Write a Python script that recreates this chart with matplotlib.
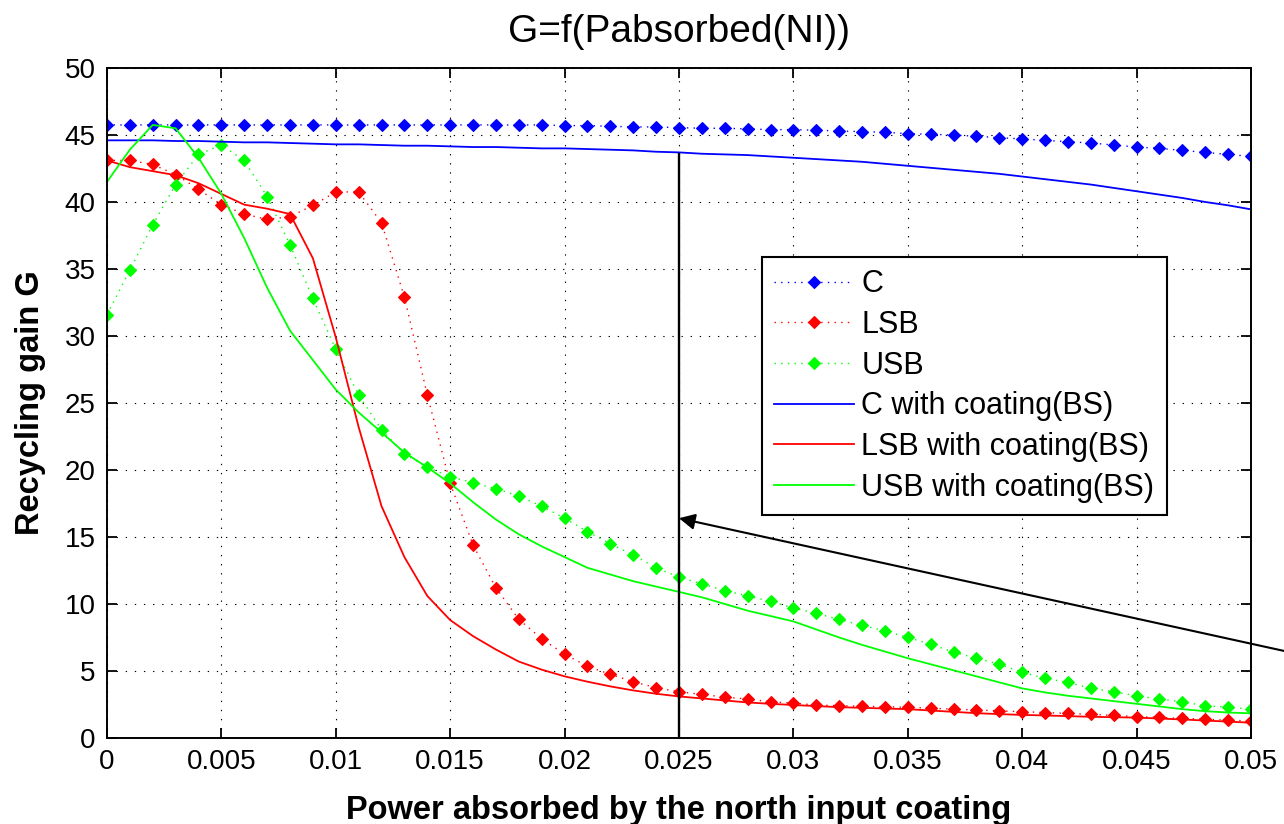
import matplotlib
matplotlib.use('Agg')
import matplotlib.pyplot as plt

plt.rcParams['font.family'] = ['Liberation Sans', 'DejaVu Sans']

# sample points (W)
power = [0.000, 0.001, 0.002, 0.003, 0.004, 0.005, 0.006, 0.007, 0.008, 0.009,
         0.010, 0.011, 0.012, 0.013, 0.014, 0.015, 0.016, 0.017, 0.018, 0.019,
         0.020, 0.021, 0.022, 0.023, 0.024, 0.025, 0.026, 0.027, 0.028, 0.029,
         0.030, 0.031, 0.032, 0.033, 0.034, 0.035, 0.036, 0.037, 0.038, 0.039,
         0.040, 0.041, 0.042, 0.043, 0.044, 0.045, 0.046, 0.047, 0.048, 0.049,
         0.050]

# without coating
g_c = [45.75, 45.75, 45.75, 45.75, 45.75, 45.75, 45.75, 45.75, 45.75, 45.75,
       45.75, 45.75, 45.75, 45.75, 45.75, 45.75, 45.75, 45.75, 45.75, 45.75,
       45.7, 45.7, 45.65, 45.6, 45.6, 45.55, 45.5, 45.5, 45.45, 45.4,
       45.4, 45.35, 45.3, 45.25, 45.2, 45.1, 45.05, 45.0, 44.9, 44.8,
       44.7, 44.6, 44.5, 44.4, 44.25, 44.1, 44.0, 43.85, 43.7, 43.55,
       43.4]
g_lsb = [43.1, 43.1, 42.8, 42.05, 40.95, 39.8, 39.1, 38.7, 38.9, 39.75,
         40.75, 40.75, 38.45, 32.9, 25.6, 19.0, 14.4, 11.2, 8.85, 7.4,
         6.25, 5.35, 4.75, 4.2, 3.75, 3.45, 3.25, 3.05, 2.9, 2.7,
         2.6, 2.46, 2.41, 2.37, 2.33, 2.29, 2.22, 2.15, 2.09, 2.02,
         1.96, 1.9, 1.83, 1.76, 1.68, 1.6, 1.53, 1.46, 1.4, 1.33,
         1.27]
g_usb = [31.6, 34.9, 38.3, 41.3, 43.55, 44.25, 43.1, 40.4, 36.8, 32.8,
         29.0, 25.6, 23.0, 21.2, 20.2, 19.5, 19.05, 18.6, 18.05, 17.3,
         16.4, 15.4, 14.5, 13.65, 12.7, 12.0, 11.5, 11.0, 10.6, 10.2,
         9.7, 9.3, 8.85, 8.4, 8.0, 7.5, 7.0, 6.4, 5.95, 5.5,
         4.9, 4.45, 4.15, 3.7, 3.45, 3.15, 2.9, 2.7, 2.4, 2.3,
         2.15]

# with coating (BS)
g_c_bs = [44.6, 44.6, 44.6, 44.55, 44.55, 44.5, 44.45, 44.45, 44.4, 44.35,
          44.3, 44.3, 44.25, 44.2, 44.2, 44.15, 44.1, 44.1, 44.05, 44.0,
          44.0, 43.95, 43.9, 43.85, 43.75, 43.7, 43.6, 43.55, 43.5, 43.4,
          43.3, 43.2, 43.1, 43.0, 42.85, 42.7, 42.55, 42.4, 42.25, 42.1,
          41.9, 41.7, 41.5, 41.3, 41.05, 40.8, 40.55, 40.3, 40.0, 39.75,
          39.45]
g_lsb_bs = [43.1, 42.6, 42.3, 42.0, 41.4, 40.6, 39.8, 39.5, 39.1, 35.8,
            29.9, 23.2, 17.3, 13.5, 10.6, 8.8, 7.6, 6.6, 5.7, 5.1,
            4.6, 4.2, 3.85, 3.55, 3.3, 3.1, 2.95, 2.8, 2.65, 2.55,
            2.46, 2.38, 2.3, 2.25, 2.2, 2.15, 2.05, 1.95, 1.85, 1.78,
            1.72, 1.68, 1.63, 1.58, 1.55, 1.52, 1.45, 1.38, 1.3, 1.22,
            1.14]
g_usb_bs = [41.5, 43.9, 45.75, 45.5, 43.3, 40.6, 37.3, 33.6, 30.4, 28.2,
            26.0, 24.3, 22.8, 21.3, 20.2, 19.0, 17.6, 16.3, 15.2, 14.3,
            13.5, 12.7, 12.2, 11.7, 11.3, 10.9, 10.5, 10.0, 9.5, 9.1,
            8.7, 8.1, 7.5, 6.95, 6.45, 5.95, 5.5, 5.05, 4.6, 4.15,
            3.7, 3.4, 3.15, 2.95, 2.75, 2.55, 2.35, 2.15, 2.0, 1.9,
            1.84]

labels = ['C', 'LSB', 'USB', 'C with coating(BS)', 'LSB with coating(BS)', 'USB with coating(BS)']

xticks = [0, 0.005, 0.01, 0.015, 0.02, 0.025, 0.03, 0.035, 0.04, 0.045, 0.05]
xtick_labels = ['0', '0.005', '0.01', '0.015', '0.02', '0.025', '0.03', '0.035', '0.04', '0.045', '0.05']
yticks = [0, 5, 10, 15, 20, 25, 30, 35, 40, 45, 50]

# marker line at P = 0.025 and the arrow pointing at it
mark_x = 0.025
mark_top = 43.6
arrow_tip = (0.025, 16.4)
arrow_tail = (0.0517, 6.4)

fig = plt.figure(figsize=(12.84, 8.24), dpi=100)
ax = fig.add_axes([0.0833, 0.1044, 0.8910, 0.8131])

dots = (0, (1, 3.8))
mk = dict(marker='D', markersize=6.3, markeredgewidth=0.8)
ax.plot(power, g_c, color='#0000ff', linestyle=dots, lw=1, label=labels[0], **mk)
ax.plot(power, g_lsb, color='#ff0000', linestyle=dots, lw=1, label=labels[1], **mk)
ax.plot(power, g_usb, color='#00ff00', linestyle=dots, lw=1, label=labels[2], **mk)
ax.plot(power, g_c_bs, color='#0000ff', lw=1.3, label=labels[3])
ax.plot(power, g_lsb_bs, color='#ff0000', lw=1.3, label=labels[4])
ax.plot(power, g_usb_bs, color='#00ff00', lw=1.3, label=labels[5])

ax.plot([mark_x, mark_x], [0, mark_top], color='black', lw=1.7)
ax.annotate('', xy=arrow_tip, xytext=arrow_tail, annotation_clip=False,
            arrowprops=dict(arrowstyle='-|>', color='black', lw=1.5,
                            mutation_scale=24, shrinkA=0, shrinkB=0))

ax.set_xlim(0, 0.05)
ax.set_ylim(0, 50)
ax.set_xticks(xticks)
ax.set_xticklabels(xtick_labels)
ax.set_yticks(yticks)
ax.grid(True, color='black', linestyle=(0, (1.2, 7)), lw=0.8)
ax.set_axisbelow(True)
ax.tick_params(direction='in', length=7, width=1.3, top=True, right=True,
               labelsize=20, pad=8)
for s in ax.spines.values():
    s.set_linewidth(1.4)

ax.set_title('G=f(Pabsorbed(NI))', fontsize=28, pad=19)
ax.set_xlabel('Power absorbed by the north input coating', fontsize=23.5, fontweight='bold')
ax.set_ylabel('Recycling gain G', fontsize=23.5, fontweight='bold')
ax.xaxis.set_label_coords(0.5, -0.085)
ax.yaxis.set_label_coords(-0.053, 0.5)

leg = ax.legend(loc='upper left', bbox_to_anchor=(0.5726, 0.7179), borderaxespad=0,
                fontsize=22, numpoints=1, handlelength=2.6, handletextpad=0.25,
                labelspacing=0.35, borderpad=0.4, fancybox=False, framealpha=1)
leg.get_frame().set_edgecolor('black')
leg.get_frame().set_linewidth(1.5)

fig.savefig('out.png', dpi=100)
